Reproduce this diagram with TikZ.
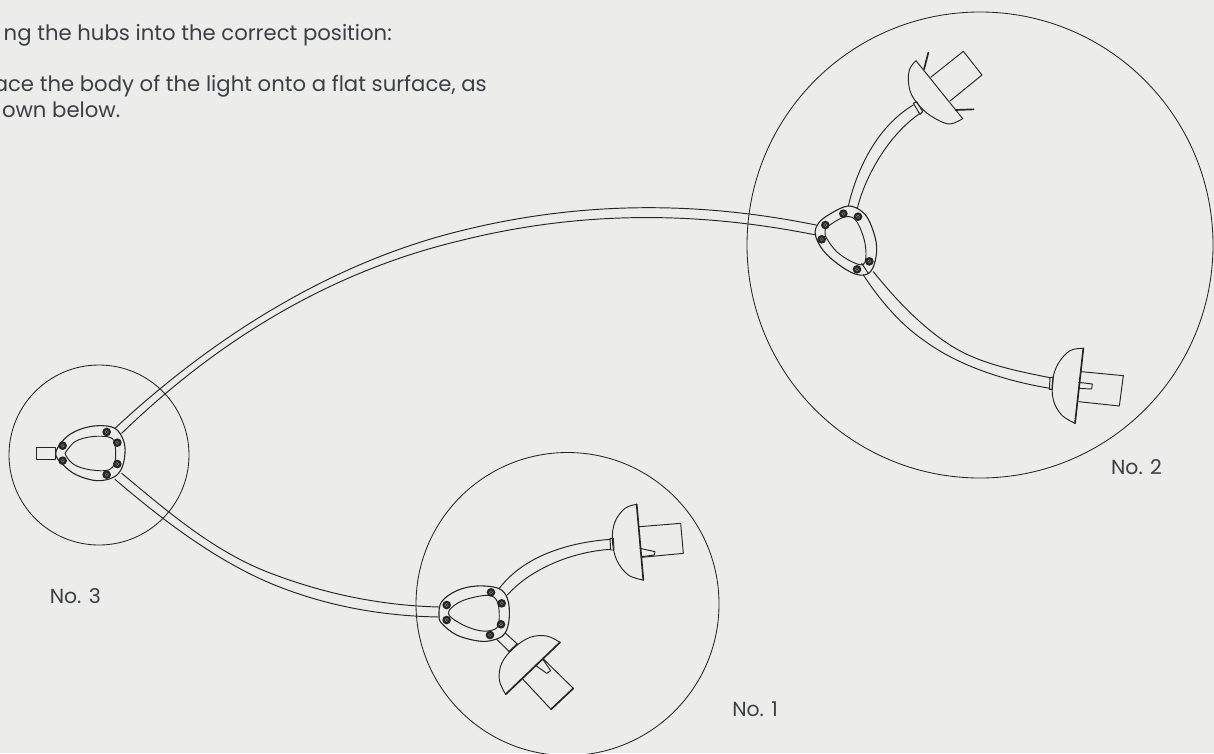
\documentclass[tikz,border=0pt]{standalone}
\usepackage{fontspec}
\setmainfont{Poppins}
\definecolor{bgc}{HTML}{ECECEA}
\definecolor{inkc}{HTML}{262626}
\definecolor{ringc}{HTML}{8A8A8A}
\definecolor{txtc}{HTML}{3A4046}
\tikzset{
 ln/.style={draw=inkc,line width=0.95pt,line join=round,line cap=round},
 hubl/.style={draw=inkc,line width=1.1pt,line join=round,line cap=round},
 thk/.style={draw=inkc,line width=1.7pt,line cap=round},
 lab/.style={text=txtc,font=\fontsize{21.2}{24}\selectfont,inner sep=0pt,anchor=base east},
 numlab/.style={lab,font=\fontsize{20.4}{24}\selectfont},
 zone/.style={draw=inkc,line width=0.85pt},
 smo/.style={smooth,tension=0.6},
 smc/.style={smooth cycle,tension=0.6},
}
\newcommand{\screw}[1]{\fill[inkc] (#1) circle[radius=13]; \draw[ringc,line width=0.4pt] (#1) circle[radius=5];}
\begin{document}
\begin{tikzpicture}[x=1pt,y=-1pt]
\useasboundingbox (0,0) rectangle (1214,753);
\clip (0,0) rectangle (1214,753);
\fill[bgc] (0,0) rectangle (1214,753);
% zones
\draw[zone] (980,245) circle[radius=233pt];
\draw[zone] (99,455) circle[radius=90pt];
\draw[zone] (567.5,604) circle[radius=151.5pt];
% long tube to hub 2
\draw[ln] (115,428.3) .. controls (212,338) and (330,263) .. (460,231) .. controls (580,201) and (698,201) .. (816,225);
\draw[ln] (121.7,433.3) .. controls (220,338) and (333,271) .. (460,240.7) .. controls (580,210.7) and (696,211) .. (816,235);
% long tube to hub 1
\draw[ln] (121.7,473.3) .. controls (167,511) and (212,550) .. (266.7,571.7) .. controls (321,593) and (379,605.5) .. (439.3,607);
\draw[ln] (115,479.3) .. controls (160,518) and (212,557.7) .. (266.7,581.7) .. controls (321,605) and (379,616) .. (439.3,617);
% hub 2 and upper lamp
\begin{scope}[shift={(780,20)},scale=1/3]
\draw[hubl] plot[smc] coordinates {(205,558) (150,582) (115,610) (106,645) (130,692) (175,733) (225,762) (262,762) (282,735) (290,680) (275,620) (250,578)};
\draw[ln] plot[smc] coordinates {(143,620) (190,592) (225,598) (250,650) (258,700) (250,733) (215,725) (170,695) (140,655) (135,635)};
\draw[ln] (245,730) -- (265,760);
\screw{136,615}\screw{125,658}\screw{190,581}\screw{234,590}\screw{268,724}\screw{231,748}
\draw[ln] (205,558) .. controls (230,450) and (290,320) .. (400,255);
\draw[ln] (232,565) .. controls (255,470) and (325,345) .. (420,280);
\draw[ln] (400,250) -- (410,245) -- (428,275) -- (420,283) -- cycle;
\draw[ln] plot[smo] coordinates {(408,122) (390,145) (385,180) (395,225) (430,270) (470,298) (510,312) (548,296)};
\draw[ln] (408,122) -- (548,296);
\draw[ln] (452,172) -- (550,94) -- (606,165) -- (510,243);
\draw[thk] (432,148) -- (445,98);
\draw[thk] (527,270) -- (581,268);
\end{scope}
% lower lamp of hub 2
\begin{scope}[shift={(840,260)},scale=1/3]
\draw[ln] (100,35) .. controls (166,117) and (242,198) .. (330,255) .. controls (416,311) and (530,333) .. (630,353);
\draw[ln] (70,45) .. controls (118,118) and (178,190) .. (250,240) .. controls (355,318) and (497,363) .. (630,385);
\draw[ln] (630,353) -- (640,351) -- (637,388) -- (628,388) -- cycle;
\draw[ln] plot[smo] coordinates {(730,265) (690,272) (655,310) (638,360) (640,420) (665,465) (705,490)};
\draw[thk] (730,265) -- (705,490);
\draw[ln] (724,335) -- (850,347) -- (838,438) -- (716,425);
\draw[ln] (716,367) -- (757,372) -- (755,387) -- (715,385);
\end{scope}
% hub 3
\begin{scope}[shift={(20,390)},scale=1/3]
\draw[hubl] plot[smc] coordinates {(107,190) (135,145) (180,118) (235,107) (285,115) (310,150) (315,190) (305,235) (280,262) (230,272) (170,255) (130,225)};
\draw[ln] plot[smo] coordinates {(135,190) (165,155) (215,140) (270,142) (285,165) (285,215) (265,240) (215,240) (170,228) (145,208) (135,190)};
\draw[ln] (50,173) rectangle (105,208);
\screw{128,167}\screw{128,212}\screw{260,126}\screw{292,158}\screw{292,222}\screw{260,254}
\end{scope}
% hub 1 and its lamps
\begin{scope}[shift={(420,500)},scale=1/3]
\draw[hubl] plot[smc] coordinates {(57,345) (65,305) (110,272) (170,258) (235,265) (262,295) (268,350) (255,400) (220,420) (175,423) (110,405) (65,370)};
\draw[ln] plot[smc] coordinates {(85,340) (115,308) (170,290) (215,288) (235,315) (235,375) (210,392) (170,390) (120,370)};
\screw{80,315}\screw{80,360}\screw{213,277}\screw{245,310}\screw{243,373}\screw{210,405}
\draw[ln] (238,265) .. controls (310,170) and (440,128) .. (570,118);
\draw[ln] (262,285) .. controls (330,208) and (455,155) .. (572,148);
\draw[ln] (570,115) -- (580,115) -- (582,150) -- (572,150) -- cycle;
\draw[ln] plot[smo] coordinates {(650,13) (615,25) (585,65) (577,120) (590,180) (625,225) (670,240)};
\draw[thk] (650,13) -- (670,240);
\draw[ln] (658,80) -- (782,70) -- (790,160) -- (665,172);
\draw[ln] (660,145) -- (705,155) -- (703,165) -- (665,170);
\draw[ln] (255,398) -- (292,432);
\draw[ln] (230,418) -- (268,455);
\draw[thk] (268,455) -- (292,432);
\draw[ln] plot[smo] coordinates {(420,427) (380,408) (330,412) (280,445) (245,490) (238,540) (257,583)};
\draw[thk] (420,427) -- (257,583);
\draw[ln] (370,477) -- (460,565);
\draw[ln] (308,537) -- (393,628);
\draw[thk] (393,628) -- (460,565);
\draw[ln] (345,495) -- (380,520) -- (392,512) -- (370,480);
\end{scope}
% texts
\node[lab] (t1) at (392,40) {ng the hubs into the correct position:};
\node[lab] (t2) at (487,91) {ace the body of the light onto a flat surface, as};
\node[lab] (t3) at (120.5,117) {own below.};
\node[numlab] (n3) at (101,603) {No. 3};
\node[numlab] (n1) at (778,716) {No. 1};
\node[numlab] (n2) at (1162,474) {No. 2};
\end{tikzpicture}
\end{document}
